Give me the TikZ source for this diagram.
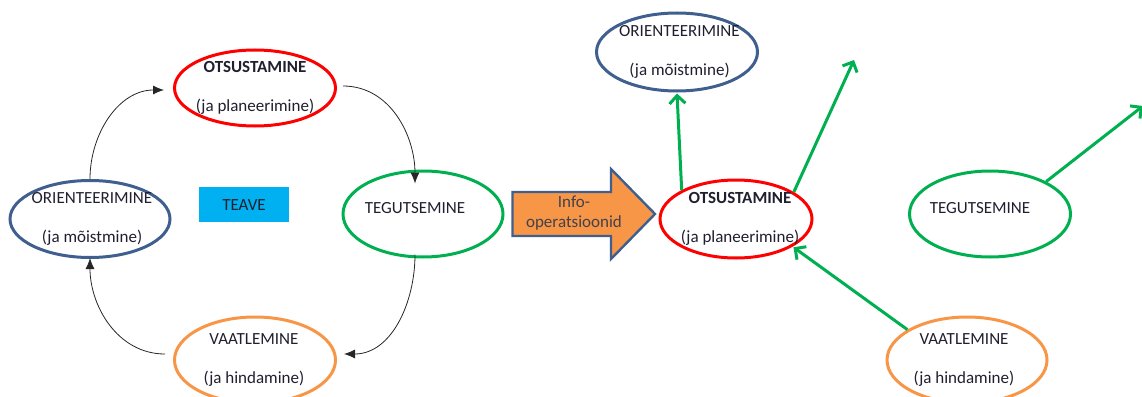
\documentclass[tikz,border=0pt]{standalone}
\usepackage{fontspec}
\setmainfont{Carlito}
\usetikzlibrary{arrows.meta,shapes.geometric,calc}
\definecolor{cred}{HTML}{FF0000}
\definecolor{cblue}{HTML}{3F5F8F}
\definecolor{cgreen}{HTML}{00B050}
\definecolor{corange}{HTML}{F79646}
\definecolor{ccyan}{HTML}{00B0F0}
\definecolor{ctext}{HTML}{1F1F2F}
\begin{document}
\begin{tikzpicture}[x=1pt,y=1pt,
  ell/.style={ellipse, draw=#1, line width=3pt, minimum width=161pt, minimum height=78pt, inner sep=0pt},
  lbl/.style={font=\fontsize{17}{19.5}\selectfont, align=center, inner sep=0pt, text=ctext},
  cyc/.style={-{Latex[length=11pt,width=9pt]}, line width=0.8pt, black!85},
  grn/.style={-{Straight Barb[length=8pt,width=16pt,line width=3pt]}, line width=3pt, cgreen}]
\useasboundingbox (0,0) rectangle (1142,-396);

% ---- left cycle ----
\node[ell=cred, minimum height=76pt] (dL) at (255,-88) {};
\node[lbl] (dLt) at (255,-88) {\textbf{OTSUSTAMINE}\\[19.5pt](ja planeerimine)};
\node[ell=cblue, minimum width=160pt, minimum height=77pt] (oL) at (90,-219) {};
\node[lbl] (oLt) at (92,-219) {ORIENTEERIMINE\\[19.5pt](ja mõistmine)};
\node[ell=cgreen, minimum width=160pt, minimum height=86pt] (tL) at (423,-214) {};
\node[lbl] (tLt) at (415,-208) {TEGUTSEMINE};
\node[ell=corange, minimum height=86pt] (vL) at (255,-360) {};
\node[lbl] (vLt) at (254,-360) {VAATLEMINE\\[19.5pt](ja hindamine)};
\node[fill=ccyan, minimum width=90pt, minimum height=35pt, inner sep=0pt] (teave) at (244,-204.5) {};
\node[lbl] (teavet) at (244,-205) {TEAVE};

\draw[cyc] (oL.north) to[out=90,in=180] ([xshift=-9pt,yshift=-2pt]dL.west);
\draw[cyc] ([xshift=6pt,yshift=2pt]dL.east) to[out=0,in=90] ([xshift=-8pt,yshift=-14pt]tL.north);
\draw[cyc] ([xshift=-8pt,yshift=4pt]tL.south) to[out=-90,in=0] ([xshift=7pt,yshift=6pt]vL.east);
\draw[cyc] ([xshift=-8pt,yshift=6pt]vL.west) to[out=180,in=-90] ([yshift=1pt]oL.south);

% ---- block arrow ----
\draw[fill=corange, draw=cblue, line width=2.4pt, line join=miter]
  (512.5,-192) -- (611,-192) -- (611,-169) -- (655,-214) -- (611,-259) -- (611,-236) -- (512.5,-236) -- cycle;
\node[lbl, text=ctext!85] (info) at (574,-213) {Info-\\operatsioonid};

% ---- right side ----
\node[ell=cred, minimum width=152pt, minimum height=78pt] (dR) at (736,-219) {};
\node[lbl] (dRt) at (740,-219) {\textbf{OTSUSTAMINE}\\[19.5pt](ja planeerimine)};
\node[ell=cblue, minimum height=78pt] (oR) at (677,-52) {};
\node[lbl] (oRt) at (679.5,-51.5) {ORIENTEERIMINE\\[19.5pt](ja mõistmine)};
\node[ell=cgreen, minimum width=161pt, minimum height=86pt] (tR) at (990,-214) {};
\node[lbl] (tRt) at (980,-208) {TEGUTSEMINE};
\node[ell=corange, minimum width=160pt, minimum height=86pt] (vR) at (967,-360) {};
\node[lbl] (vRt) at (964,-360) {VAATLEMINE\\[19.5pt](ja hindamine)};

\coordinate (g1) at (854,-60);
\coordinate (g2) at (1143,-106);
\draw[grn] (dR.152) -- ([yshift=-1pt]oR.south);
\draw[grn] (dR.25) -- (g1);
\draw[grn] (tR.30) -- (g2);
\draw[grn] (vR.153) -- ([xshift=2pt]dR.-27);
\end{tikzpicture}
\end{document}
